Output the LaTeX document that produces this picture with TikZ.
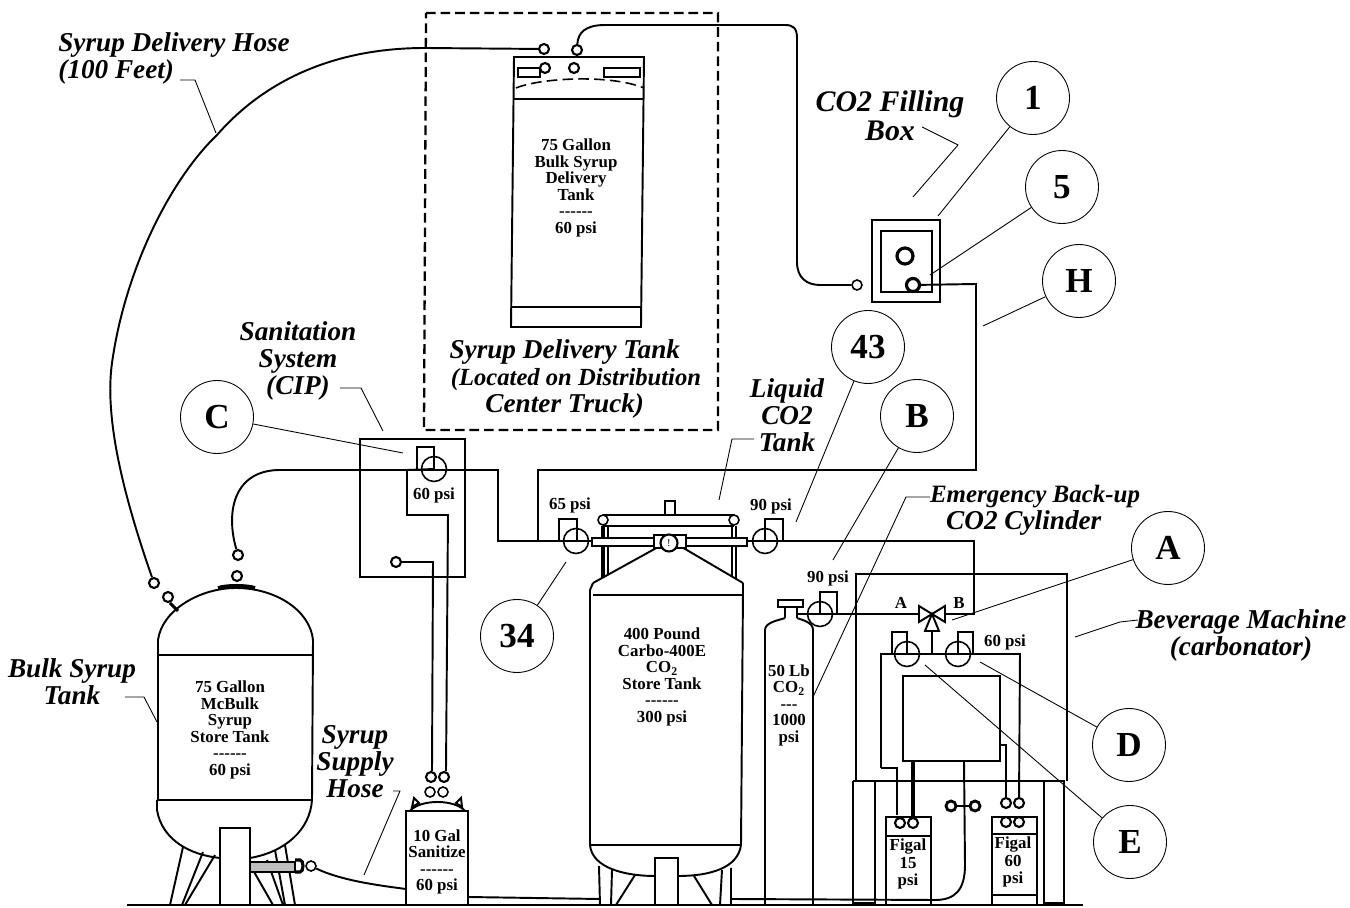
\documentclass[tikz,border=0pt]{standalone}
\usepackage{fontspec}
\setmainfont{Liberation Serif}
\usepackage{tikz}
\usetikzlibrary{positioning}
\newcommand{\sixdash}{-{}-{}-{}-{}-{}-}

\begin{document}
\begin{tikzpicture}[
    x=0.02cm, y=-0.02cm,
    shell/.style={draw, line width=1.1pt},
    pipe/.style={draw, line width=1.1pt},
    thin pipe/.style={draw, line width=0.8pt},
    leader/.style={draw, line width=0.5pt},
    callout/.style={draw, circle, line width=0.5pt, minimum size=1.46cm, inner sep=0pt, font=\fontsize{20}{20}\selectfont\bfseries},
    port/.style={draw, circle, line width=1.2pt, minimum size=0.2cm, inner sep=0pt},
    gauge/.style={draw, circle, line width=0.9pt, minimum size=0.5cm, inner sep=0pt},
    tag/.style={align=center, inner sep=0pt, font=\fontsize{15.5}{15.4}\selectfont\bfseries\itshape},
    tanktext/.style={align=center, inner sep=0pt, font=\fontsize{9.6}{9.4}\selectfont\bfseries},
    psi/.style={inner sep=0pt, font=\fontsize{9.6}{9.4}\selectfont\bfseries}
]
    \useasboundingbox (0,0) rectangle (1350,908);

    \draw[line width=1.3pt, dashed, dash pattern=on 5.5pt off 2.8pt] (426,13) -- (718,13) -- (718,430) -- (424,430) -- cycle;

    \draw[shell] (514,57) -- (644,57) -- (641,327) -- (511,327) -- cycle;
    \draw[shell] (514,99) -- (644,99);
    \draw[shell] (512,307) -- (641,307);
    \draw[line width=0.9pt, dashed, dash pattern=on 6pt off 3pt] (516,88) .. controls (540,78) and (610,74) .. (644,88);
    \draw[line width=0.9pt] (518,68) rectangle (540,77);
    \draw[line width=0.9pt] (604,68) rectangle (640,77);
    \node[tanktext] (deliverytext) at (576,188) {75 Gallon\\Bulk Syrup\\Delivery\\Tank\\\sixdash\\60 psi};
    \node[port] (pDeliveryA) at (544,49) {};
    \node[port] (pDeliveryB) at (577,50) {};
    \node[port] (pDeliveryC) at (545,68) {};
    \node[port] (pDeliveryD) at (574,68) {};

    \draw[shell] (872,220) rectangle (940,302);
    \draw[shell] (881,231) rectangle (932,292);
    \node[port, line width=1.8pt, minimum size=0.32cm] (pFillA) at (905,256) {};
    \node[port, line width=1.8pt, minimum size=0.26cm] (pFillB) at (913,285) {};
    \node[port, line width=0.9pt] (pFillC) at (857,285) {};

    \draw[shell] (360,439) rectangle (465,577);
    \node[gauge] (gCIP) at (434,469) {};
    \draw[shell] (417,469) |- (434,447) -- (434,469);
    \node[psi] (psiCIP) at (434,495) {60 psi};
    \node[port] (pCIP) at (396,562) {};

    \draw[shell] (158,800) -- (158,640) .. controls (162,610) and (200,588) .. (236,588) .. controls (275,588) and (310,610) .. (313,640) -- (312,800);
    \draw[shell] (158,655) -- (313,655);
    \draw[shell] (157,800) -- (312,800);
    \draw[shell] (157,800) -- (157,810) .. controls (162,840) and (190,855) .. (220,858);
    \draw[shell] (250,858) .. controls (285,852) and (310,830) .. (312,800);
    \draw[line width=2pt] (218,588) .. controls (225,585) and (248,585) .. (255,588);
    \draw[line width=1.8pt] (170,603) -- (178,611);
    \draw[shell] (170,905) -- (183,847) (182,905) -- (203,852) (185,905) -- (215,855);
    \draw[shell] (273,905) -- (253,870) (283,905) -- (267,860) (285,905) -- (275,850) (295,905) -- (285,845);
    \draw[shell, fill=white] (220,905) -- (220,828) -- (250,828) -- (250,905);
    \draw[line width=0.7pt, fill=gray!50] (250,862) rectangle (295,872);
    \draw[line width=1.8pt] (295,860) -- (300,860) .. controls (304,860) and (304,872) .. (300,872) -- (295,872);
    \node[tanktext] (bulktext) at (230,730) {75 Gallon\\McBulk\\Syrup\\Store Tank\\\sixdash\\60 psi};
    \node[port] (pBulkA) at (237,576) {};
    \node[port] (pBulkB) at (238,555) {};
    \node[port] (pBulkC) at (168,597) {};
    \node[port] (pBulkD) at (154,583) {};
    \node[port, line width=0.9pt] (pBulkE) at (311,866) {};

    \draw[shell] (406,811) rectangle (468,905);
    \draw[shell] (410,811) .. controls (420,799) and (455,799) .. (465,811);
    \draw[shell] (412,807) -- (419,803) -- (414,798) -- cycle;
    \draw[shell] (462,807) -- (456,803) -- (461,798) -- cycle;
    \node[tanktext] (sanitizetext) at (437,862) {10 Gal\\Sanitize\\\sixdash\\60 psi};
    \node[port] (pSanA) at (431,777) {};
    \node[port] (pSanB) at (444,777) {};
    \node[port, line width=0.9pt] (pSanC) at (430,792) {};
    \node[port, line width=0.9pt] (pSanD) at (443,792) {};

    \draw[shell] (593,583) -- (660,546);
    \draw[shell] (743,583) -- (680,546);
    \draw[shell] (593,583) -- (590,590) -- (590,845);
    \draw[shell] (743,583) -- (743,590) -- (741,845);
    \draw[shell] (593,595) -- (743,595);
    \draw[shell] (590,845) -- (741,845);
    \draw[shell] (590,845) .. controls (592,868) and (625,876) .. (655,876);
    \draw[shell] (678,876) .. controls (710,876) and (738,868) .. (741,845);
    \draw[shell] (599,866) -- (600,905) (612,870) -- (611,905) (635,875) -- (616,905);
    \draw[shell] (694,876) -- (712,905) (722,870) -- (720,905) (731,868) -- (731,905);
    \draw[shell, fill=white] (655,905) -- (655,858) -- (678,858) -- (678,905);
    \draw[shell] (595,905) -- (735,905);
    \node[tanktext] (storetext) at (662,677) {400 Pound\\Carbo-400E\\CO\textsubscript{2}\\Store Tank\\\sixdash\\300 psi};
    \draw[line width=0.9pt] (665,516) -- (665,501) -- (675,501) -- (675,516);
    \draw[line width=0.9pt] (603,515) -- (734,515) (603,526) -- (734,526);
    \node[port, line width=0.9pt] (pRigA) at (603,520) {};
    \node[port, line width=0.9pt] (pRigB) at (734,520) {};
    \draw[line width=1.8pt] (603,526) -- (603,578);
    \draw[line width=0.9pt] (608,526) -- (608,575);
    \draw[line width=0.9pt] (732,526) -- (732,577) (736,526) -- (736,578);
    \draw[line width=0.9pt, fill=white] (592,538) rectangle (747,546);
    \draw[shell, fill=white] (654,535) rectangle (686,548);
    \node[gauge, fill=white, minimum size=0.34cm, line width=1.2pt, font=\fontsize{6}{6}\selectfont] (gStore) at (669,543) {!};
    \coordinate (barL) at (592,541);
    \coordinate (barR) at (747,541);

    \node[gauge] (gLeft) at (576,541) {};
    \draw[shell] (559,541) |- (577,519) -- (577,541);
    \node[psi] (psiLeft) at (570,505) {65 psi};
    \node[gauge] (gRight) at (765,541) {};
    \draw[shell] (765,541) |- (783,519) -- (783,541);
    \node[psi] (psiRight) at (771,506) {90 psi};

    \draw[shell] (765,905) -- (765,630) .. controls (765,622) and (780,620) .. (785,618);
    \draw[shell] (813,905) -- (813,630) .. controls (813,622) and (802,620) .. (797,618);
    \draw[shell] (785,618) -- (785,607) (797,618) -- (797,607);
    \draw[line width=1.4pt] (778,600) rectangle (803,607);
    \node[tanktext] (cylindertext) at (789,705) {50 Lb\\CO\textsubscript{2}\\-{}-{}-\\1000\\psi};
    \node[gauge] (gCyl) at (820,614) {};
    \draw[shell] (820,614) |- (837,592) -- (837,614);
    \node[psi] (psiCyl) at (828,578) {90 psi};

    \draw[line width=1.4pt] (856,781) -- (856,574) -- (1067,574) -- (1067,781);
    \draw[line width=1.4pt] (853,781) -- (1065,781);
    \draw[shell] (853,781) -- (853,905) (875,781) -- (875,905) (853,903) -- (875,903);
    \draw[shell] (1044,781) -- (1044,905) (1064,781) -- (1064,905) (1044,903) -- (1064,903);
    \draw[shell] (919,606) -- (919,622) -- (945,606) -- (945,622) -- cycle;
    \draw[shell] (932,614) -- (925,631) -- (939,631) -- cycle;
    \node[psi] (valveA) at (901,603) {A};
    \node[psi] (valveB) at (959,603) {B};
    \node[gauge] (gMachA) at (907,654) {};
    \draw[shell] (892,654) |- (907,632) -- (907,654);
    \node[gauge] (gMachB) at (958,654) {};
    \draw[shell] (958,654) |- (973,632) -- (973,654);
    \node[psi] (psiMach) at (1005,642) {60 psi};
    \draw[shell] (903,676) rectangle (1000,761);

    \draw[shell] (886,905) -- (886,817) -- (931,817) -- (931,905);
    \draw[shell] (886,836) -- (931,836);
    \draw[shell] (886,905) -- (931,905);
    \node[tanktext, font=\fontsize{9.6}{10}\selectfont\bfseries] (figalA) at (908,864) {Figal\\15\\psi};
    \node[port] (pFigA) at (900,823) {};
    \node[port] (pFigB) at (913,823) {};
    \draw[shell] (992,905) -- (992,817) -- (1037,817) -- (1037,905);
    \draw[shell] (992,834) -- (1037,834);
    \draw[shell] (992,895) -- (1037,895);
    \draw[shell] (992,905) -- (1037,905);
    \node[tanktext, font=\fontsize{9.6}{10}\selectfont\bfseries] (figalB) at (1013,862) {Figal\\60\\psi};
    \node[port] (pFigC) at (1006,822) {};
    \node[port] (pFigD) at (1019,822) {};
    \node[port] (pFigE) at (1006,803) {};
    \node[port] (pFigF) at (1019,803) {};
    \node[port, line width=1.6pt] (pLooseA) at (951,806) {};
    \node[port, line width=1.6pt] (pLooseB) at (975,806) {};

    \draw[pipe] (127,905) -- (1083,905);

    \draw[pipe] (pDeliveryA) -- (425,48) .. controls (335,48) and (265,80) .. (217,135) .. controls (170,180) and (125,270) .. (112,363) .. controls (104,420) and (125,500) .. (pBulkD);
    \draw[pipe] (pDeliveryB) .. controls (578,33) and (585,25) .. (605,25) -- (785,25) .. controls (793,25) and (797,28) .. (797,38) -- (797,262) .. controls (797,278) and (807,285) .. (820,285) -- (pFillC);
    \draw[pipe] (pBulkB) .. controls (225,510) and (235,470) .. (280,470) -- (498,470) -- (498,541) -- (barL);
    \draw[pipe] (gCIP.center) -- (407,470) -- (407,515) -- (448,515) -- (446,770) -- (pSanB);
    \draw[pipe] (pCIP) -- (433,562) -- (432,770) -- (pSanA);
    \draw[pipe] (538,541) -- (538,470) -- (976,470) -- (976,284) -- (pFillB);
    \draw[pipe] (barR) -- (974,541) -- (974,614) -- (945,614);
    \draw[pipe] (pBulkE) .. controls (340,880) and (375,885) .. (406,889);
    \draw[pipe] (468,897) -- (600,899);
    \draw[pipe] (732,899) -- (935,900) .. controls (955,900) and (965,890) .. (965,865) -- (964,761);
    \draw[pipe] (pLooseA) -- (pLooseB);
    \draw[pipe] (gCyl.center) -- (797,614);
    \draw[pipe] (gCyl.center) -- (919,614);
    \draw[pipe] (932,631) -- (932,654);
    \draw[pipe] (881,768) -- (881,654) -- (1020,654) -- (pFigF);
    \draw[pipe] (881,768) -- (897,768) -- (897,815);
    \draw[line width=1.8pt] (913,761) -- (pFigB);
    \draw[thin pipe] (1000,745) -- (1006,745) -- (pFigE);

    \node[tag, align=left, anchor=west] (tagHose) at (58,58) {Syrup Delivery Hose\\(100 Feet)};
    \node[tag, font=\fontsize{17}{16.2}\selectfont\bfseries\itshape] (tagFilling) at (890,116) {CO2 Filling\\Box};
    \node[tag] (tagCIP) at (298,361) {Sanitation\\System\\(CIP)};
    \node[tag] (tagTruck) at (576,379) {Syrup Delivery Tank\hspace*{0.45cm}\\{\fontsize{14}{15.4}\selectfont (Located on Distribution}\\Center Truck)\hspace*{0.45cm}};
    \node[tag] (tagLiquid) at (787,415) {Liquid\\CO2\\Tank};
    \node[tag] (tagBackup) at (1035,510) {{\fontsize{14.2}{15.4}\selectfont Emergency Back-up}\\CO2 Cylinder\hspace*{0.45cm}};
    \node[tag] (tagMachine) at (1241,635) {Beverage Machine\\(carbonator)};
    \node[tag] (tagBulk) at (72,682) {Bulk Syrup\\Tank};
    \node[tag] (tagSupply) at (355,762) {Syrup\\Supply\\Hose};

    \node[callout] (c1) at (1033,98) {1};
    \node[callout] (c5) at (1062,187) {5};
    \node[callout] (cH) at (1079,281) {H};
    \node[callout] (c43) at (868,347) {43};
    \node[callout] (cB) at (917,416) {B};
    \node[callout] (cC) at (217,417) {C};
    \node[callout] (c34) at (517,636) {34};
    \node[callout] (cA) at (1168,548) {A};
    \node[callout] (cD) at (1129,745) {D};
    \node[callout] (cE) at (1130,842) {E};

    \coordinate (e1) at (938,216);
    \coordinate (e5) at (930,275);
    \coordinate (eH) at (983,326);
    \coordinate (e43) at (796,522);
    \coordinate (eB) at (833,560);
    \coordinate (eC) at (403,453);
    \coordinate (e34) at (566,562);
    \coordinate (eA) at (952,620);
    \coordinate (eD) at (980,662);
    \coordinate (eE) at (925,665);

    \path[leader] (c1) -- (e1);
    \path[leader] (c5) -- (e5);
    \path[leader] (cH) -- (eH);
    \path[leader] (c43) -- (e43);
    \path[leader] (cB) -- (eB);
    \path[leader] (cC) -- (eC);
    \path[leader] (c34) -- (e34);
    \path[leader] (cA) -- (eA);
    \path[leader] (cD) -- (eD);
    \path[leader] (cE) -- (eE);

    \coordinate (lHose) at (216,133);
    \coordinate (lFilling) at (913,197);
    \coordinate (lCIP) at (383,431);
    \coordinate (lLiquid) at (719,500);
    \coordinate (lBackup) at (813,697);
    \coordinate (lMachine) at (1075,637);
    \coordinate (lBulk) at (157,722);
    \coordinate (lSupply) at (364,875);

    \path[leader] (180,80) -- (195,80) -- (lHose);
    \path[leader] (922,127) -- (958,145) -- (lFilling);
    \path[leader] (340,388) -- (361,388) -- (lCIP);
    \path[leader] (754,439) -- (732,439) -- (lLiquid);
    \path[leader] (930,497) -- (906,497) -- (lBackup);
    \path[leader] (1138,620) -- (1120,622) -- (lMachine);
    \path[leader] (125,697) -- (144,697) -- (lBulk);
    \path[leader] (393,791) -- (400,791) -- (lSupply);
\end{tikzpicture}
\end{document}
